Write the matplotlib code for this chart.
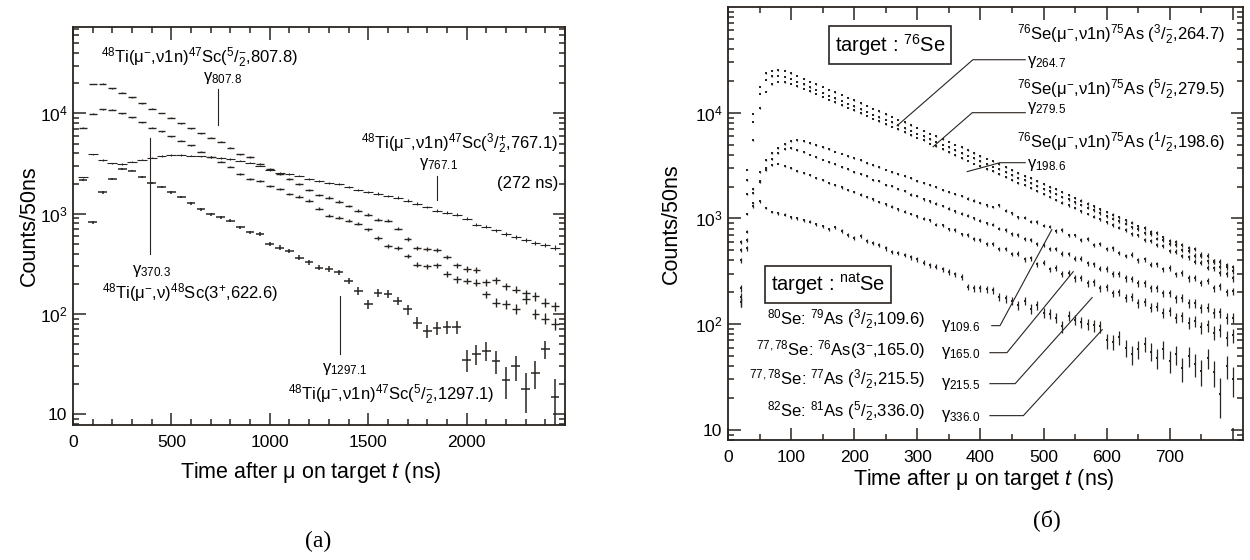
import numpy as np
import matplotlib
matplotlib.use("Agg")
import matplotlib.pyplot as plt
from matplotlib.ticker import MultipleLocator, LogLocator, NullFormatter

plt.rcParams["font.family"] = ["Liberation Sans", "DejaVu Sans"]
plt.rcParams["mathtext.fontset"] = "custom"
plt.rcParams["mathtext.rm"] = "Liberation Sans"
plt.rcParams["mathtext.it"] = "Liberation Sans:italic"
plt.rcParams["mathtext.bf"] = "Liberation Sans:bold"

DARK = "#2a2420"

# ---- panel (a): 48Ti target, 50 ns bins ----
t_a = list(range(100, 2451, 50))
t_bcd = list(range(50, 2451, 50))

ti_807 = [19600, 19800, 17800, 16100, 14500, 12600, 11200, 10100, 9060, 8000,
          7130, 6350, 5750, 5210, 4540, 3920, 3660, 3160, 2820, 2510,
          2240, 2000, 1740, 1550, 1450, 1320, 1200, 1070, 980, 870,
          850, 710, 560, 455, 445, 435, 370, 305, 280, 275,
          206, 217, 190, 175, 160, 150, 130, 120]
ti_370 = [7200, 9930, 10960, 10900, 10070, 9120, 8130, 7240, 6610, 5930,
          5330, 4820, 4170, 3660, 3310, 2950, 2510, 2240, 2140, 1900,
          1780, 1580, 1480, 1350, 1120, 955, 910, 850, 795, 700,
          575, 480, 455, 380, 310, 300, 305, 250, 222, 214,
          205, 157, 130, 126, 112, 140, 100, 90, 80]
ti_767 = [2300, 3920, 3440, 3180, 3140, 3310, 3470, 3630, 3760, 3860,
          3850, 3800, 3740, 3660, 3590, 3510, 3390, 3240, 3020, 2700,
          2570, 2510, 2400, 2240, 2140, 2040, 1990, 1860, 1740, 1660,
          1590, 1510, 1450, 1350, 1260, 1170, 1070, 1020, 980, 890,
          780, 740, 680, 630, 590, 550, 515, 490, 460]
ti_1297 = [2170, 820, 1630, 2220, 2800, 2690, 2340, 2010, 1830, 1630,
           1460, 1270, 1110, 990, 920, 850, 730, 650, 630, 500,
           460, 425, 365, 330, 290, 280, 260, 214, 170, 125,
           163, 158, 135, 111, 82, 68, 73, 74, 74, 35,
           40, 43, 34, 22, 30, 18, 26, 45, 15]

# ---- panel (b): Se targets, 10 ns bins ----
t_se = list(range(20, 801, 10))

se_264 = [600, 2900, 9800, 17500, 23500, 25000, 25200, 24800, 23600, 22300,
          21000, 19700, 18600, 17500, 16500, 15600, 14700, 13900, 13100, 12300,
          11600, 10900, 10300, 9700, 9200, 8600, 8100, 7600, 7200, 6750,
          6350, 6000, 5650, 5300, 5000, 4700, 4420, 4150, 3900, 3680,
          3460, 3250, 3060, 2880, 2700, 2540, 2400, 2250, 2120, 1990,
          1880, 1770, 1660, 1560, 1470, 1380, 1300, 1220, 1150, 1080,
          1020, 960, 910, 840, 810, 740, 730, 660, 610, 600,
          560, 520, 510, 455, 445, 395, 390, 360, 345]
se_279 = [500, 2300, 8200, 15000, 20500, 22000, 22200, 21900, 20800, 19700,
          18500, 17400, 16400, 15400, 14500, 13700, 12900, 12200, 11500, 10800,
          10200, 9600, 9100, 8550, 8100, 7600, 7150, 6750, 6350, 6000,
          5650, 5300, 5000, 4700, 4420, 4170, 3930, 3700, 3480, 3280,
          3090, 2910, 2740, 2580, 2430, 2290, 2160, 2030, 1910, 1800,
          1700, 1600, 1510, 1420, 1340, 1260, 1190, 1120, 1050, 990,
          935, 890, 820, 790, 725, 705, 645, 625, 570, 555,
          505, 495, 445, 440, 395, 390, 350, 345, 315]
se_198 = [400, 1700, 5500, 11000, 15800, 18500, 19500, 19400, 18700, 17800,
          16800, 15900, 15000, 14100, 13300, 12500, 11800, 11100, 10500, 9900,
          9300, 8800, 8300, 7800, 7350, 6950, 6550, 6150, 5800, 5480,
          5100, 4800, 4500, 4230, 3980, 3740, 3520, 3300, 3110, 2940,
          2800, 2630, 2470, 2320, 2180, 2050, 1930, 1810, 1700, 1600,
          1500, 1410, 1330, 1250, 1170, 1100, 1040, 980, 920, 865,
          815, 780, 715, 690, 630, 615, 560, 545, 495, 485,
          440, 430, 388, 380, 342, 338, 303, 298, 270]
se_109 = [220, 750, 1750, 2750, 3550, 4150, 4650, 5050, 5350, 5500,
          5380, 5150, 4950, 4720, 4520, 4280, 4100, 3880, 3700, 3540,
          3350, 3200, 3050, 2900, 2770, 2630, 2510, 2390, 2270, 2170,
          2060, 1970, 1870, 1780, 1700, 1620, 1540, 1470, 1400, 1330,
          1280, 1330, 1180, 1120, 1030, 1010, 930, 925, 850, 835,
          760, 780, 690, 690, 620, 640, 560, 575, 510, 520,
          470, 440, 455, 400, 410, 365, 370, 330, 340, 295,
          305, 270, 275, 245, 255, 220, 228, 200, 205]
se_165 = [160, 520, 1300, 2200, 3000, 3650, 4150, 4500, 4650, 4450,
          4230, 4000, 3800, 3600, 3420, 3240, 3070, 2910, 2760, 2620,
          2500, 2330, 2250, 2090, 2020, 1880, 1830, 1680, 1640, 1510,
          1450, 1380, 1310, 1240, 1170, 1110, 1060, 1000, 950, 900,
          870, 800, 780, 715, 700, 640, 630, 575, 565, 515,
          510, 465, 460, 415, 415, 375, 370, 335, 332, 300,
          300, 270, 268, 243, 242, 218, 218, 196, 196, 175,
          177, 158, 158, 141, 143, 127, 129, 114, 115]
se_215 = [160, 620, 1400, 2250, 2850, 3200, 3300, 3150, 2990, 2830,
          2690, 2550, 2420, 2300, 2180, 2070, 1960, 1860, 1770, 1680,
          1590, 1510, 1430, 1360, 1290, 1220, 1160, 1100, 1045, 990,
          955, 875, 860, 785, 775, 705, 700, 635, 630, 570,
          570, 510, 515, 460, 465, 410, 420, 370, 380, 330,
          340, 300, 305, 270, 275, 243, 248, 218, 222, 196,
          200, 177, 180, 158, 163, 143, 146, 128, 132, 115,
          118, 103, 107, 93, 97, 83, 87, 74, 78]
se_336 = [180, 1100, 1900, 1450, 1250, 1150, 1120, 1080, 1030, 1000,
          960, 930, 880, 840, 790, 820, 760, 700, 650, 680,
          610, 590, 560, 520, 480, 470, 450, 430, 410, 380,
          360, 350, 330, 310, 295, 280, 225, 220, 218, 215,
          210, 180, 175, 165, 150, 165, 140, 150, 128, 125,
          115, 95, 120, 110, 105, 100, 97, 95, 70, 68,
          75, 60, 52, 58, 65, 55, 48, 58, 45, 52,
          38, 50, 42, 36, 48, 35, 22, 40, 30]

fig = plt.figure(figsize=(12.5, 5.6), dpi=100)
ax1 = fig.add_axes([0.0584, 0.241, 0.3936, 0.711])
ax2 = fig.add_axes([0.5824, 0.2143, 0.412, 0.7732])


def style_axis(ax, xmax, xmaj, xmin_step, xlabels, ylim):
    ax.set_yscale("log")
    ax.set_xlim(0, xmax)
    ax.set_ylim(*ylim)
    ax.set_xticks(list(range(0, xmax + 1, xmaj)))
    ax.set_xticklabels(xlabels)
    ax.xaxis.set_minor_locator(MultipleLocator(xmin_step))
    ax.set_yticks([10, 100, 1000, 10000])
    ax.set_yticklabels(["10", r"$10^{2}$", r"$10^{3}$", r"$10^{4}$"])
    ax.yaxis.set_minor_locator(LogLocator(subs=range(2, 10)))
    ax.yaxis.set_minor_formatter(NullFormatter())
    ax.tick_params(which="both", direction="in", top=True, right=True,
                   color=DARK, width=1.1, labelsize=12.5, labelcolor="black")
    ax.tick_params(axis="x", which="both", pad=7)
    ax.tick_params(axis="y", which="both", pad=4)
    ax.tick_params(which="major", length=9)
    ax.tick_params(which="minor", length=4.5)
    for s in ax.spines.values():
        s.set_color(DARK)
        s.set_linewidth(1.3)
    ax.set_xlabel(r"Time after μ on target $t$ (ns)", fontsize=15.5)
    ax.set_ylabel("Counts/50ns", fontsize=15.5)


# ---------- panel (a) ----------
ax = ax1
for t, y, xe, lw in [(t_a, ti_807, 20, 1.0), (t_bcd, ti_370, 20, 1.0),
                     (t_bcd, ti_767, 25, 0.8), (t_bcd, ti_1297, 22, 1.1)]:
    y = np.array(y, dtype=float)
    ax.errorbar(t, y, xerr=xe, yerr=np.sqrt(y + 40), fmt="none",
                ecolor=DARK, elinewidth=lw, capsize=0)

style_axis(ax, 2500, 500, 100, ["0", "500", "1000", "1500", "2000", ""], (7.8, 7.3e4))
ax.xaxis.set_label_coords(0.483, -0.088)
ax.yaxis.set_label_coords(-0.067, 0.5)

fs = 12
ax.text(645, 36300, r"$^{48}$Ti(μ$^{-}$,ν1n)$^{47}$Sc($^{5}/_{2}^{-}$,807.8)",
        ha="center", va="center", fontsize=fs)
ax.text(761, 22400, r"γ$_{807.8}$", ha="center", va="center", fontsize=fs)
ax.plot([735, 735], [17400, 7600], color=DARK, lw=0.8)

ax.text(1965, 5000, r"$^{48}$Ti(μ$^{-}$,ν1n)$^{47}$Sc($^{3}/_{2}^{+}$,767.1)",
        ha="center", va="center", fontsize=fs)
ax.text(1858, 3160, r"γ$_{767.1}$", ha="center", va="center", fontsize=fs)
ax.text(2310, 2000, "(272 ns)", ha="center", va="center", fontsize=fs)
ax.plot([1851, 1851], [2400, 1380], color=DARK, lw=0.8)

ax.plot([391, 391], [5750, 400], color=DARK, lw=0.8)
ax.text(401, 269, r"γ$_{370.3}$", ha="center", va="center", fontsize=fs)
ax.text(594, 162, r"$^{48}$Ti(μ$^{-}$,ν)$^{48}$Sc(3$^{+}$,622.6)",
        ha="center", va="center", fontsize=fs)

ax.plot([1355, 1355], [151, 40], color=DARK, lw=0.8)
ax.text(1381, 28.2, r"γ$_{1297.1}$", ha="center", va="center", fontsize=fs)
ax.text(1619, 15.8, r"$^{48}$Ti(μ$^{-}$,ν1n)$^{47}$Sc($^{5}/_{2}^{-}$,1297.1)",
        ha="center", va="center", fontsize=fs)

# ---------- panel (b) ----------
ax = ax2
for y in [se_264, se_279, se_198, se_109, se_165, se_215, se_336]:
    y = np.array(y, dtype=float)
    ax.errorbar(t_se, y, yerr=np.sqrt(y + 60), fmt="s", ms=1.7, mew=0,
                color=DARK, ecolor=DARK, elinewidth=0.9, capsize=0)

style_axis(ax, 816, 100, 50, ["0", "100", "200", "300", "400", "500", "600", "700", ""],
           (8.0, 1.0e5))
ax.set_xlim(0, 816)
ax.xaxis.set_label_coords(0.497, -0.062)
ax.yaxis.set_label_coords(-0.089, 0.5)

box = dict(boxstyle="square,pad=0.3", fc="white", ec=DARK, lw=1.2)
ax.text(257, 44000, r"target : $^{76}$Se", ha="center", va="center",
        fontsize=14.5, bbox=box, zorder=5)
ax.text(158, 236, r"target : $^{\mathrm{nat}}$Se", ha="center", va="center",
        fontsize=14.5, bbox=box, zorder=5)

upper = [
    (54700, r"$^{76}$Se(μ$^{-}$,ν1n)$^{75}$As ($^{3}/_{2}^{-}$,264.7)",
     30300, r"γ$_{264.7}$", [471, 388, 268], [31700, 31700, 7530]),
    (16500, r"$^{76}$Se(μ$^{-}$,ν1n)$^{75}$As ($^{5}/_{2}^{-}$,279.5)",
     11150, r"γ$_{279.5}$", [471, 387, 325], [10000, 10000, 4760]),
    (5200, r"$^{76}$Se(μ$^{-}$,ν1n)$^{75}$As ($^{1}/_{2}^{-}$,198.6)",
     3220, r"γ$_{198.6}$", [471, 431, 379], [3365, 3365, 2770]),
]
for ly, label, gy, glabel, lx, lyy in upper:
    ax.text(788, ly, label, ha="right", va="center", fontsize=fs)
    ax.text(474, gy, glabel, ha="left", va="center", fontsize=fs)
    ax.plot(lx, lyy, color=DARK, lw=0.8)

lower = [
    (110, r"$^{80}$Se: $^{79}$As ($^{3}/_{2}^{-}$,109.6)", r"γ$_{109.6}$",
     [418, 431, 513], [96.6, 96.6, 782]),
    (57.2, r"$^{77,78}$Se: $^{76}$As(3$^{-}$,165.0)", r"γ$_{165.0}$",
     [415, 442, 547], [53.6, 53.6, 313]),
    (29.8, r"$^{77,78}$Se: $^{77}$As ($^{3}/_{2}^{-}$,215.5)", r"γ$_{215.5}$",
     [415, 455, 577], [27.3, 27.3, 178]),
    (14.8, r"$^{82}$Se: $^{81}$As ($^{5}/_{2}^{-}$,336.0)", r"γ$_{336.0}$",
     [415, 468, 593], [13.6, 13.6, 88.5]),
]
for ly, label, glabel, lx, lyy in lower:
    ax.text(312, ly, label, ha="right", va="center", fontsize=fs)
    ax.text(338, lyy[0], glabel, ha="left", va="center", fontsize=fs)
    ax.plot(lx, lyy, color=DARK, lw=0.8)

fig.text(0.2544, 0.034, "(a)", ha="center", va="center", fontsize=17,
         family=["Liberation Serif", "DejaVu Serif"])
fig.text(0.8376, 0.0714, "(б)", ha="center", va="center", fontsize=17,
         family=["Liberation Serif", "DejaVu Serif"])

fig.savefig("out.png", dpi=100)
